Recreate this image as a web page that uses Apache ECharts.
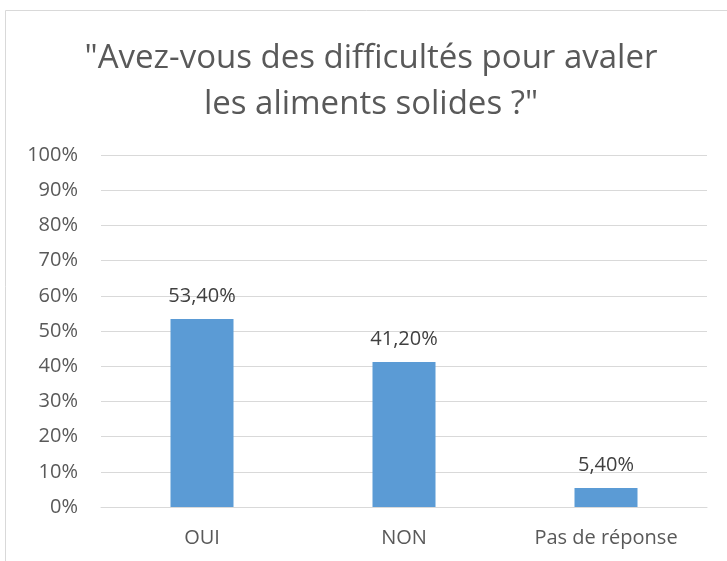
<!DOCTYPE html>
<html>
<head>
<meta charset="utf-8">
<script src="https://cdn.jsdelivr.net/npm/echarts@6/dist/echarts.min.js"></script>
<style>
  html, body { margin: 0; padding: 0; background: #fff; }
  #chart { width: 727px; height: 561px; }
</style>
</head>
<body>
<div id="chart"></div>
<script>
var categories = ['OUI', 'NON', 'Pas de réponse'];
var values = [53.4, 41.2, 5.4];
var yTicks = [0, 10, 20, 30, 40, 50, 60, 70, 80, 90, 100];

var font = '"Open Sans", sans-serif';
var myChart = echarts.init(document.getElementById('chart'));

var option = {
    backgroundColor: '#fff',
    textStyle: { fontFamily: font },
    graphic: [{
        type: 'rect',
        shape: { x: 5.5, y: 10.5, width: 740, height: 560 },
        style: { fill: 'none', stroke: '#d9d9d9', lineWidth: 1 }
    }],
    title: {
        text: '"Avez-vous des difficultés pour avaler\nles aliments solides ?"',
        left: 366,
        textAlign: 'center',
        top: 31,
        textStyle: {
            fontFamily: font,
            fontSize: 33,
            fontWeight: 'normal',
            color: '#595959',
            lineHeight: 46
        }
    },
    grid: { left: 101, right: 20, top: 155, bottom: 54 },
    xAxis: {
        type: 'category',
        data: categories,
        axisLine: { lineStyle: { color: '#d9d9d9', width: 1 } },
        axisTick: { show: false },
        axisLabel: { color: '#595959', fontSize: 20, margin: 21, fontFamily: font }
    },
    yAxis: {
        type: 'value',
        min: yTicks[0],
        max: yTicks[yTicks.length - 1],
        interval: 10,
        axisLine: { show: false },
        axisTick: { show: false },
        splitLine: { lineStyle: { color: '#d9d9d9', width: 1 } },
        axisLabel: {
            color: '#595959', fontSize: 20, margin: 23, fontFamily: font,
            formatter: function (v) { return v + '%'; }
        }
    },
    series: [{
        type: 'bar',
        data: values,
        barWidth: 63,
        itemStyle: { color: '#5b9bd5' },
        label: {
            show: true,
            position: 'top',
            distance: 13,
            color: '#404040',
            fontSize: 20,
            fontFamily: font,
            formatter: function (p) { return p.value.toFixed(2).replace('.', ',') + '%'; }
        }
    }]
};

myChart.setOption(option);
</script>
</body>
</html>
